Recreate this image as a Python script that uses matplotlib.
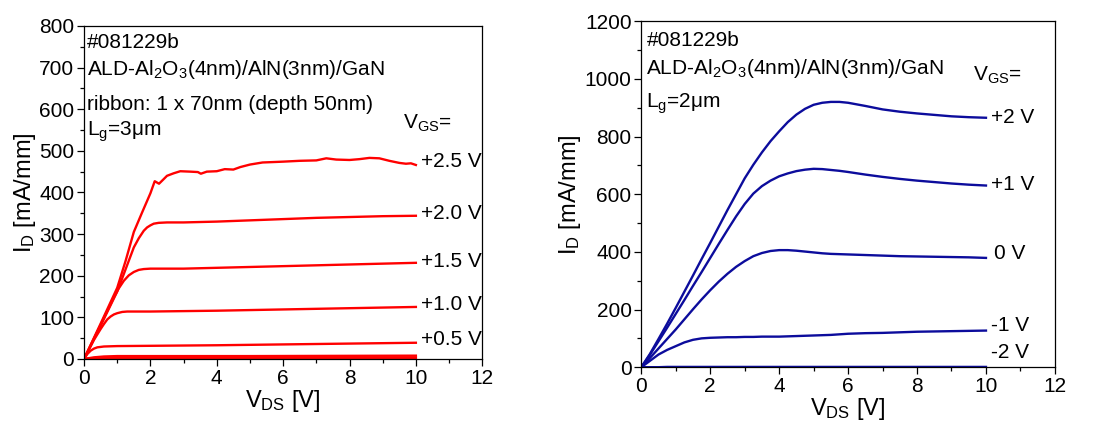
import matplotlib
matplotlib.use("Agg")
import matplotlib.pyplot as plt
from matplotlib.ticker import MultipleLocator

plt.rcParams['font.family'] = ['Liberation Sans', 'DejaVu Sans']
plt.rcParams['mathtext.fontset'] = 'custom'
plt.rcParams['mathtext.rm'] = 'Liberation Sans'
plt.rcParams['mathtext.it'] = 'Liberation Sans:italic'
plt.rcParams['mathtext.bf'] = 'Liberation Sans:bold'

# left panel: Lg = 3 um ribbon device
vds_25 = [0, 0.5, 1, 1.25, 1.5, 1.75, 2, 2.13, 2.26, 2.4, 2.5, 2.7, 2.9, 3.2, 3.43, 3.52, 3.7, 4, 4.24,
          4.5, 4.71, 5, 5.38, 5.7, 6, 6.5, 7, 7.3, 7.6, 8, 8.3, 8.6, 8.9, 9.2, 9.5, 9.7, 9.85, 10]
id_25 = [0, 85, 171, 235, 305, 352, 398, 427, 421, 432, 440, 446, 451, 450, 449, 445, 450, 451, 456,
         455, 461, 467, 472, 473, 474, 476, 477, 482, 479, 478, 480, 483, 482, 476, 471, 469, 470, 466]
vds_20 = [0, 0.5, 1, 1.25, 1.5, 1.65, 1.8, 1.9, 2, 2.1, 2.25, 2.5, 3, 4, 5, 6, 7, 8, 9, 10]
id_20 = [0, 80, 162, 215, 268, 290, 308, 316, 321, 325, 327, 328, 328, 330, 333, 336, 339, 341, 343, 344]
vds_15 = [0, 0.5, 0.9, 1.05, 1.2, 1.35, 1.5, 1.65, 1.8, 2, 3, 4, 5, 6, 7, 8, 9, 10]
id_15 = [0, 82, 148, 170, 188, 201, 209, 214, 216, 217, 217, 219, 221, 223, 225, 227, 229, 231]
vds_10 = [0, 0.3, 0.5, 0.6, 0.7, 0.8, 0.9, 1, 1.15, 1.3, 2, 4, 6, 8, 10]
id_10 = [0, 46, 72, 84, 95, 102, 107, 110, 113, 114, 114, 116, 119, 122, 125]
vds_05 = [0, 0.1, 0.2, 0.3, 0.4, 0.6, 1, 4, 6, 8, 10]
id_05 = [0, 12, 20, 25, 28, 30, 31, 33, 35, 37, 39]
vds_00 = [0, 0.3, 0.6, 1, 5, 10]
id_00 = [0, 4, 6, 7, 7, 8]
vds_m05 = [0, 0.5, 10]
id_m05 = [0, 3, 4]
vds_m10 = [0, 10]
id_m10 = [0, 1]

left_curves = [(vds_25, id_25), (vds_20, id_20), (vds_15, id_15), (vds_10, id_10),
               (vds_05, id_05), (vds_00, id_00), (vds_m05, id_m05), (vds_m10, id_m10)]
left_labels = ["+2.5 V", "+2.0 V", "+1.5 V", "+1.0 V", "+0.5 V"]
left_label_y = [475, 350, 233, 132, 46]

# right panel: Lg = 2 um device
vds_r = [0, 0.25, 0.5, 0.75, 1, 1.25, 1.5, 1.75, 2, 2.25, 2.5, 2.75, 3, 3.25, 3.5, 3.75, 4, 4.25,
         4.5, 4.75, 5, 5.25, 5.5, 5.75, 6, 6.5, 7, 7.5, 8, 8.5, 9, 9.5, 10]
id_p2 = [0, 46, 98, 151, 206, 262, 318, 375, 431, 488, 545, 600, 655, 702, 745, 784, 818, 850,
         876, 896, 910, 917, 920, 920, 917, 906, 894, 886, 880, 875, 870, 867, 865]
id_p1 = [0, 43, 90, 137, 185, 233, 282, 330, 379, 428, 476, 523, 566, 602, 628, 647, 662, 672,
         680, 685, 688, 687, 684, 681, 677, 668, 660, 653, 647, 642, 637, 633, 630]
id_0 = [0, 32, 65, 98, 131, 166, 201, 235, 267, 297, 324, 348, 368, 385, 396, 403, 406, 406,
        404, 401, 398, 395, 393, 392, 391, 389, 387, 385, 384, 383, 382, 381, 379]
id_m1 = [0, 22, 44, 60, 73, 86, 95, 100, 102, 103, 104, 104, 105, 105, 106, 106, 106, 107,
         108, 109, 110, 111, 112, 114, 116, 118, 119, 121, 123, 124, 125, 126, 127]
id_m2 = [0, 0, 0, 1, 1, 1, 1, 1, 1, 1, 1, 1, 1, 1, 1, 1, 1, 1,
         1, 1, 1, 1, 1, 1, 1, 1, 1, 1, 1, 1, 1, 1, 1]
right_series = [id_p2, id_p1, id_0, id_m1, id_m2]
right_labels = ["+2 V", "+1 V", "0 V", "-1 V", "-2 V"]
right_label_x = [10.16, 10.16, 10.24, 10.16, 10.16]
right_label_y = [867, 632, 393, 145, 52]

fs = 15
fig = plt.figure(figsize=(11, 4.32), dpi=100)
ax1 = fig.add_axes([0.0764, 0.169, 0.362, 0.771])
ax2 = fig.add_axes([0.583, 0.150, 0.376, 0.801])

for x, y in left_curves:
    ax1.plot(x, y, color='#ff0000', lw=1.7)
for lab, yy in zip(left_labels, left_label_y):
    ax1.text(10.15, yy, lab, fontsize=fs, va='center', ha='left')
ax1.text(9.6, 567, r"V$_\mathregular{GS}$=", fontsize=fs, va='center')
ax1.text(0.1, 760, "#081229b", fontsize=fs, va='center')
ax1.text(0.1, 696, r"ALD-Al$_\mathregular{2}$O$_\mathregular{3}$(4nm)/AlN(3nm)/GaN", fontsize=fs, va='center')
ax1.text(0.1, 612, "ribbon: 1 x 70nm (depth 50nm)", fontsize=fs, va='center')
ax1.text(0.1, 547, r"L$_\mathregular{g}$=3μm", fontsize=fs, va='center')
ax1.set_xlim(0, 12)
ax1.set_ylim(0, 800)
ax1.yaxis.set_major_locator(MultipleLocator(100))
ax1.yaxis.set_minor_locator(MultipleLocator(50))

for yv in right_series:
    ax2.plot(vds_r, yv, color='#0c0c9c', lw=1.7)
for lab, xx, yy in zip(right_labels, right_label_x, right_label_y):
    ax2.text(xx, yy, lab, fontsize=fs, va='center', ha='left')
ax2.text(9.63, 1011, r"V$_\mathregular{GS}$=", fontsize=fs, va='center')
ax2.text(0.15, 1133, "#081229b", fontsize=fs, va='center')
ax2.text(0.15, 1035, r"ALD-Al$_\mathregular{2}$O$_\mathregular{3}$(4nm)/AlN(3nm)/GaN", fontsize=fs, va='center')
ax2.text(0.15, 913, r"L$_\mathregular{g}$=2μm", fontsize=fs, va='center')
ax2.set_xlim(0, 12)
ax2.set_ylim(0, 1200)
ax2.yaxis.set_major_locator(MultipleLocator(200))
ax2.yaxis.set_minor_locator(MultipleLocator(100))

for ax in (ax1, ax2):
    ax.xaxis.set_major_locator(MultipleLocator(2))
    ax.xaxis.set_minor_locator(MultipleLocator(1))
    ax.tick_params(which='major', direction='out', length=5, width=0.9, labelsize=fs, pad=2)
    ax.tick_params(which='minor', direction='out', length=3, width=0.9)
    for s in ax.spines.values():
        s.set_linewidth(0.9)
    ax.set_xlabel(r"V$_\mathregular{DS}$ [V]", fontsize=17, labelpad=0)
    ax.set_ylabel(r"I$_\mathregular{D}$ [mA/mm]", fontsize=17, labelpad=1)

fig.savefig("out.png", dpi=100)
